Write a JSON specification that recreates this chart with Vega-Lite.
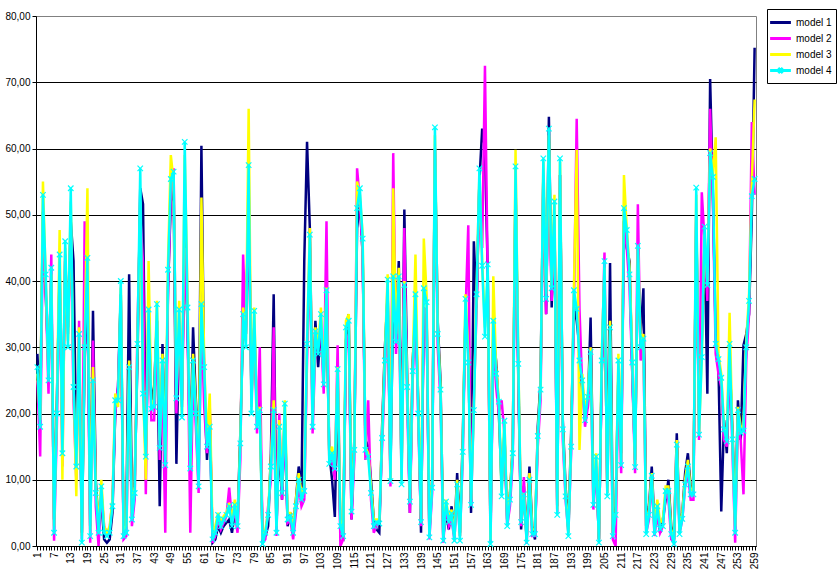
{
"$schema":"https://vega.github.io/schema/vega-lite/v6.json",
"width":720,"height":530,
"autosize":{"type":"none"},
"padding":{"left":36,"top":16,"right":82,"bottom":33},
"background":"white",
"config":{"font":"Liberation Sans","view":{"stroke":"#808080","strokeWidth":1}},
"data":{"values":[
{"i":1,"m1":29,"m2":25,"m3":26,"m4":27},
{"i":2,"m1":20,"m2":13.5,"m3":19,"m4":18},
{"i":3,"m1":50.5,"m2":48,"m3":55,"m4":53},
{"i":4,"m1":38,"m2":39,"m3":40,"m4":41},
{"i":5,"m1":27,"m2":23,"m3":26,"m4":25},
{"i":6,"m1":40,"m2":44,"m3":41,"m4":42},
{"i":7,"m1":4,"m2":0.8,"m3":3,"m4":2},
{"i":8,"m1":22,"m2":18,"m3":21,"m4":20},
{"i":9,"m1":41,"m2":42,"m3":47.7,"m4":44},
{"i":10,"m1":16,"m2":12,"m3":10,"m4":14},
{"i":11,"m1":43,"m2":44,"m3":45,"m4":46},
{"i":12,"m1":33,"m2":32,"m3":31,"m4":30},
{"i":13,"m1":49,"m2":48.7,"m3":52,"m4":54},
{"i":14,"m1":43,"m2":22,"m3":25,"m4":24},
{"i":15,"m1":14,"m2":10,"m3":7.5,"m4":12},
{"i":16,"m1":30,"m2":34,"m3":33,"m4":32},
{"i":17,"m1":2,"m2":1,"m3":1.5,"m4":0.5},
{"i":18,"m1":28,"m2":49,"m3":31,"m4":30},
{"i":19,"m1":40,"m2":38,"m3":54,"m4":43.5},
{"i":20,"m1":3,"m2":0.5,"m3":2.5,"m4":1.5},
{"i":21,"m1":35.5,"m2":31,"m3":27,"m4":25},
{"i":22,"m1":10,"m2":6,"m3":9,"m4":8},
{"i":23,"m1":3,"m2":0,"m3":3,"m4":2},
{"i":24,"m1":7,"m2":8,"m3":10,"m4":9},
{"i":25,"m1":1,"m2":3,"m3":3,"m4":2},
{"i":26,"m1":0.5,"m2":2,"m3":2,"m4":1.5},
{"i":27,"m1":1,"m2":2.5,"m3":3,"m4":2},
{"i":28,"m1":5,"m2":7,"m3":7,"m4":6},
{"i":29,"m1":20,"m2":20,"m3":23,"m4":22},
{"i":30,"m1":24,"m2":24,"m3":21,"m4":22},
{"i":31,"m1":38,"m2":37,"m3":39,"m4":40},
{"i":32,"m1":2,"m2":1,"m3":2.5,"m4":1.5},
{"i":33,"m1":4,"m2":1.5,"m3":3,"m4":2},
{"i":34,"m1":41,"m2":25,"m3":28,"m4":27},
{"i":35,"m1":6,"m2":3,"m3":5,"m4":4},
{"i":36,"m1":10,"m2":7,"m3":9,"m4":8},
{"i":37,"m1":28,"m2":33,"m3":31,"m4":30.5},
{"i":38,"m1":54,"m2":50,"m3":52,"m4":57},
{"i":39,"m1":51.6,"m2":42.7,"m3":24,"m4":23},
{"i":40,"m1":15,"m2":7.8,"m3":10,"m4":13.5},
{"i":41,"m1":33,"m2":38,"m3":43,"m4":35.7},
{"i":42,"m1":22,"m2":19,"m3":21,"m4":20.7},
{"i":43,"m1":24,"m2":19,"m3":22,"m4":21},
{"i":44,"m1":34,"m2":34,"m3":37,"m4":36.5},
{"i":45,"m1":6,"m2":13,"m3":16,"m4":14.8},
{"i":46,"m1":30.5,"m2":26,"m3":29,"m4":28},
{"i":47,"m1":14,"m2":2,"m3":13,"m4":12.2},
{"i":48,"m1":39,"m2":39,"m3":43,"m4":41.7},
{"i":49,"m1":52,"m2":53,"m3":59,"m4":55.4},
{"i":50,"m1":54,"m2":57,"m3":55,"m4":56.5},
{"i":51,"m1":12.4,"m2":20,"m3":23,"m4":22.3},
{"i":52,"m1":33,"m2":33,"m3":37,"m4":35.7},
{"i":53,"m1":22,"m2":21,"m3":20,"m4":19.4},
{"i":54,"m1":48.4,"m2":45,"m3":59,"m4":61},
{"i":55,"m1":33,"m2":34,"m3":38,"m4":36},
{"i":56,"m1":14,"m2":2,"m3":12,"m4":11.7},
{"i":57,"m1":33,"m2":26,"m3":29,"m4":28},
{"i":58,"m1":22,"m2":18,"m3":21,"m4":20},
{"i":59,"m1":12,"m2":8,"m3":10,"m4":9},
{"i":60,"m1":60.4,"m2":34,"m3":52.6,"m4":36.5},
{"i":61,"m1":25,"m2":21,"m3":28,"m4":27},
{"i":62,"m1":13,"m2":14,"m3":16,"m4":15},
{"i":63,"m1":20,"m2":21,"m3":23,"m4":18},
{"i":64,"m1":0.5,"m2":0.5,"m3":2,"m4":1},
{"i":65,"m1":1,"m2":1.5,"m3":3,"m4":2},
{"i":66,"m1":3,"m2":4,"m3":5,"m4":4.7},
{"i":67,"m1":2,"m2":2.5,"m3":3.5,"m4":3},
{"i":68,"m1":3,"m2":3.5,"m3":4.5,"m4":4},
{"i":69,"m1":3.5,"m2":4.5,"m3":5,"m4":4.7},
{"i":70,"m1":4,"m2":8.8,"m3":6.5,"m4":6},
{"i":71,"m1":2,"m2":4,"m3":4,"m4":3},
{"i":72,"m1":5,"m2":5,"m3":7,"m4":6.2},
{"i":73,"m1":4,"m2":2,"m3":3.5,"m4":3},
{"i":74,"m1":17,"m2":13,"m3":16,"m4":15.5},
{"i":75,"m1":33,"m2":44,"m3":36,"m4":35},
{"i":76,"m1":32,"m2":32,"m3":31,"m4":30},
{"i":77,"m1":52,"m2":54,"m3":66,"m4":57.5},
{"i":78,"m1":23,"m2":22,"m3":21,"m4":20},
{"i":79,"m1":33,"m2":33,"m3":36,"m4":35.5},
{"i":80,"m1":20,"m2":17,"m3":19,"m4":18},
{"i":81,"m1":22,"m2":30,"m3":21,"m4":20.5},
{"i":82,"m1":1,"m2":0.5,"m3":1,"m4":0.3},
{"i":83,"m1":1.5,"m2":1,"m3":2.5,"m4":2},
{"i":84,"m1":3,"m2":6,"m3":5,"m4":4.7},
{"i":85,"m1":14,"m2":10,"m3":13,"m4":12},
{"i":86,"m1":38,"m2":33,"m3":22,"m4":20.5},
{"i":87,"m1":3,"m2":1.5,"m3":3,"m4":2},
{"i":88,"m1":16,"m2":20,"m3":19,"m4":18},
{"i":89,"m1":7,"m2":7,"m3":9,"m4":8},
{"i":90,"m1":20,"m2":19,"m3":22,"m4":21.5},
{"i":91,"m1":3,"m2":3.5,"m3":5,"m4":4},
{"i":92,"m1":5,"m2":4,"m3":5,"m4":4.5},
{"i":93,"m1":3,"m2":1,"m3":3,"m4":2},
{"i":94,"m1":7,"m2":5,"m3":7,"m4":6},
{"i":95,"m1":12,"m2":9,"m3":11,"m4":10},
{"i":96,"m1":8,"m2":6,"m3":8,"m4":7},
{"i":97,"m1":43,"m2":7,"m3":9,"m4":8.3},
{"i":98,"m1":61,"m2":28,"m3":31,"m4":30.5},
{"i":99,"m1":48,"m2":45,"m3":48,"m4":47},
{"i":100,"m1":20,"m2":17,"m3":19,"m4":18},
{"i":101,"m1":34,"m2":30,"m3":33,"m4":32.4},
{"i":102,"m1":27,"m2":31,"m3":30,"m4":29},
{"i":103,"m1":33,"m2":33,"m3":36,"m4":35},
{"i":104,"m1":26,"m2":23,"m3":25,"m4":24.4},
{"i":105,"m1":36,"m2":49,"m3":39,"m4":38.6},
{"i":106,"m1":14,"m2":13,"m3":13,"m4":12.4},
{"i":107,"m1":10,"m2":13,"m3":15,"m4":14},
{"i":108,"m1":4.4,"m2":10,"m3":12,"m4":11.7},
{"i":109,"m1":25,"m2":30.3,"m3":27,"m4":26.7},
{"i":110,"m1":2,"m2":0,"m3":4,"m4":3},
{"i":111,"m1":1.3,"m2":1,"m3":2,"m4":1.5},
{"i":112,"m1":31,"m2":30,"m3":34,"m4":33},
{"i":113,"m1":35,"m2":32,"m3":35,"m4":34},
{"i":114,"m1":4,"m2":4,"m3":6,"m4":5.2},
{"i":115,"m1":16,"m2":13,"m3":15,"m4":14.5},
{"i":116,"m1":48,"m2":57,"m3":55,"m4":51},
{"i":117,"m1":52,"m2":52,"m3":53,"m4":54},
{"i":118,"m1":44,"m2":44,"m3":47,"m4":46.4},
{"i":119,"m1":16,"m2":13,"m3":15,"m4":14.5},
{"i":120,"m1":15,"m2":22,"m3":14,"m4":13.5},
{"i":121,"m1":10,"m2":7,"m3":9,"m4":8},
{"i":122,"m1":4,"m2":2,"m3":4,"m4":3},
{"i":123,"m1":2.5,"m2":3,"m3":4,"m4":3.6},
{"i":124,"m1":2,"m2":4,"m3":4,"m4":3.4},
{"i":125,"m1":18,"m2":15,"m3":17,"m4":16.3},
{"i":126,"m1":30,"m2":26,"m3":29,"m4":28},
{"i":127,"m1":38,"m2":38,"m3":41,"m4":40.2},
{"i":128,"m1":11,"m2":9,"m3":10,"m4":9.8},
{"i":129,"m1":38,"m2":59.3,"m3":54,"m4":40.7},
{"i":130,"m1":33,"m2":29,"m3":32,"m4":30.8},
{"i":131,"m1":43,"m2":38,"m3":42,"m4":40.7},
{"i":132,"m1":11,"m2":10,"m3":10,"m4":9.3},
{"i":133,"m1":50.8,"m2":48,"m3":40,"m4":39.4},
{"i":134,"m1":26,"m2":22,"m3":25,"m4":24},
{"i":135,"m1":5,"m2":5,"m3":7,"m4":6.7},
{"i":136,"m1":28,"m2":25,"m3":27,"m4":26.4},
{"i":137,"m1":35,"m2":36,"m3":44,"m4":38},
{"i":138,"m1":22,"m2":19,"m3":21,"m4":20},
{"i":139,"m1":2,"m2":3,"m3":4,"m4":3.6},
{"i":140,"m1":36,"m2":36,"m3":46.4,"m4":38.9},
{"i":141,"m1":35,"m2":35,"m3":38,"m4":36.8},
{"i":142,"m1":2,"m2":1,"m3":2,"m4":1.3},
{"i":143,"m1":10,"m2":8,"m3":10,"m4":8.8},
{"i":144,"m1":60,"m2":60,"m3":62,"m4":63.2},
{"i":145,"m1":34,"m2":30,"m3":33,"m4":32},
{"i":146,"m1":25,"m2":22,"m3":24,"m4":23.6},
{"i":147,"m1":1.5,"m2":0.5,"m3":1.5,"m4":0.8},
{"i":148,"m1":5,"m2":6,"m3":7,"m4":6.7},
{"i":149,"m1":2.5,"m2":3,"m3":4,"m4":3.6},
{"i":150,"m1":6,"m2":4,"m3":5.5,"m4":4.9},
{"i":151,"m1":1.5,"m2":1,"m3":1.5,"m4":0.8},
{"i":152,"m1":11,"m2":8,"m3":10,"m4":9.3},
{"i":153,"m1":2,"m2":1.5,"m3":1.5,"m4":0.8},
{"i":154,"m1":16,"m2":13,"m3":15,"m4":14.2},
{"i":155,"m1":35,"m2":35,"m3":38,"m4":37.3},
{"i":156,"m1":30,"m2":48.4,"m3":29,"m4":27.7},
{"i":157,"m1":5,"m2":6,"m3":7,"m4":6.2},
{"i":158,"m1":46,"m2":22,"m3":21,"m4":20.5},
{"i":159,"m1":36,"m2":36,"m3":39,"m4":38},
{"i":160,"m1":55,"m2":55,"m3":56,"m4":57},
{"i":161,"m1":63,"m2":45,"m3":43,"m4":42.3},
{"i":162,"m1":60,"m2":72.5,"m3":33,"m4":31.6},
{"i":163,"m1":41.2,"m2":40,"m3":40.7,"m4":42.5},
{"i":164,"m1":2,"m2":0.5,"m3":1,"m4":0.3},
{"i":165,"m1":32,"m2":31,"m3":40.7,"m4":34},
{"i":166,"m1":28,"m2":24,"m3":27,"m4":26},
{"i":167,"m1":20,"m2":20,"m3":22,"m4":21.8},
{"i":168,"m1":9,"m2":22,"m3":8,"m4":7.5},
{"i":169,"m1":17,"m2":17,"m3":19,"m4":18.9},
{"i":170,"m1":4,"m2":3,"m3":4,"m4":3},
{"i":171,"m1":8,"m2":6,"m3":8,"m4":7},
{"i":172,"m1":15,"m2":13,"m3":15,"m4":14},
{"i":173,"m1":55,"m2":54,"m3":59.8,"m4":57.3},
{"i":174,"m1":25,"m2":26,"m3":28,"m4":27.5},
{"i":175,"m1":2.5,"m2":3,"m3":4,"m4":3.6},
{"i":176,"m1":9,"m2":10.4,"m3":8,"m4":7.8},
{"i":177,"m1":1,"m2":0.3,"m3":1,"m4":0.5},
{"i":178,"m1":12,"m2":9,"m3":11,"m4":10},
{"i":179,"m1":3,"m2":1.5,"m3":2.5,"m4":1.8},
{"i":180,"m1":1,"m2":1.5,"m3":2.5,"m4":1.8},
{"i":181,"m1":18,"m2":15,"m3":17,"m4":16.6},
{"i":182,"m1":25,"m2":22,"m3":24,"m4":23.6},
{"i":183,"m1":56,"m2":56,"m3":58,"m4":58.5},
{"i":184,"m1":35,"m2":35,"m3":38,"m4":37.3},
{"i":185,"m1":64.8,"m2":60,"m3":62,"m4":63},
{"i":186,"m1":36,"m2":37,"m3":39,"m4":38.9},
{"i":187,"m1":50,"m2":50,"m3":53,"m4":52},
{"i":188,"m1":6,"m2":5,"m3":5.5,"m4":4.7},
{"i":189,"m1":56,"m2":56,"m3":58,"m4":58.5},
{"i":190,"m1":19,"m2":16,"m3":18,"m4":17.6},
{"i":191,"m1":9,"m2":7,"m3":8,"m4":7.5},
{"i":192,"m1":2.5,"m2":2,"m3":2,"m4":1.5},
{"i":193,"m1":17,"m2":14,"m3":16,"m4":15},
{"i":194,"m1":36,"m2":36,"m3":39,"m4":38.6},
{"i":195,"m1":34,"m2":64.5,"m3":59.8,"m4":35.8},
{"i":196,"m1":30,"m2":35.8,"m3":14.5,"m4":28},
{"i":197,"m1":23,"m2":24,"m3":26,"m4":25},
{"i":198,"m1":21,"m2":18,"m3":20,"m4":19},
{"i":199,"m1":21,"m2":21,"m3":23,"m4":22.5},
{"i":200,"m1":34.5,"m2":28,"m3":30,"m4":29.3},
{"i":201,"m1":8,"m2":5.5,"m3":7,"m4":6.2},
{"i":202,"m1":12,"m2":12,"m3":14,"m4":13.5},
{"i":203,"m1":1,"m2":1,"m3":1,"m4":0.5},
{"i":204,"m1":26,"m2":26,"m3":29,"m4":28},
{"i":205,"m1":41,"m2":44.3,"m3":42,"m4":43},
{"i":206,"m1":9,"m2":8,"m3":8,"m4":7.5},
{"i":207,"m1":42.7,"m2":31,"m3":34,"m4":33},
{"i":208,"m1":2,"m2":1,"m3":2,"m4":1.5},
{"i":209,"m1":6,"m2":0,"m3":5,"m4":4.7},
{"i":210,"m1":26,"m2":26,"m3":29,"m4":28},
{"i":211,"m1":14,"m2":11,"m3":13,"m4":12.2},
{"i":212,"m1":49,"m2":49,"m3":56,"m4":51},
{"i":213,"m1":45,"m2":45,"m3":48,"m4":47.7},
{"i":214,"m1":43,"m2":39,"m3":42,"m4":41},
{"i":215,"m1":26,"m2":26,"m3":29,"m4":27.7},
{"i":216,"m1":13,"m2":11,"m3":12,"m4":11.9},
{"i":217,"m1":43,"m2":51.6,"m3":45,"m4":45.3},
{"i":218,"m1":32,"m2":28,"m3":31,"m4":30},
{"i":219,"m1":38.9,"m2":30,"m3":32,"m4":31.3},
{"i":220,"m1":3,"m2":2,"m3":2.5,"m4":1.8},
{"i":221,"m1":6,"m2":4,"m3":5.5,"m4":4.7},
{"i":222,"m1":12,"m2":10,"m3":11,"m4":10.6},
{"i":223,"m1":3,"m2":1.5,"m3":2.5,"m4":1.8},
{"i":224,"m1":5,"m2":5,"m3":7,"m4":6},
{"i":225,"m1":2,"m2":2,"m3":3.5,"m4":2.6},
{"i":226,"m1":4,"m2":3,"m3":4,"m4":3},
{"i":227,"m1":7,"m2":8,"m3":9,"m4":8.3},
{"i":228,"m1":10,"m2":7,"m3":9,"m4":8.3},
{"i":229,"m1":3,"m2":1,"m3":2.5,"m4":1.8},
{"i":230,"m1":1,"m2":0.5,"m3":1,"m4":0.3},
{"i":231,"m1":17,"m2":14,"m3":16,"m4":15.3},
{"i":232,"m1":3,"m2":2,"m3":2.5,"m4":1.8},
{"i":233,"m1":5,"m2":4,"m3":5,"m4":4.1},
{"i":234,"m1":11,"m2":9,"m3":10,"m4":9.3},
{"i":235,"m1":14,"m2":11,"m3":13,"m4":12},
{"i":236,"m1":9,"m2":7,"m3":8.5,"m4":7.8},
{"i":237,"m1":9,"m2":7,"m3":8.5,"m4":7.8},
{"i":238,"m1":50,"m2":50,"m3":53,"m4":54.1},
{"i":239,"m1":20,"m2":16,"m3":17,"m4":16.8},
{"i":240,"m1":31,"m2":53.4,"m3":29,"m4":28.5},
{"i":241,"m1":46,"m2":46,"m3":47,"m4":48.2},
{"i":242,"m1":23,"m2":37,"m3":40,"m4":39.4},
{"i":243,"m1":70.5,"m2":66,"m3":60,"m4":59.3},
{"i":244,"m1":53,"m2":52,"m3":56,"m4":55.7},
{"i":245,"m1":32,"m2":29,"m3":61.7,"m4":30.5},
{"i":246,"m1":27,"m2":26,"m3":29,"m4":28.2},
{"i":247,"m1":5.2,"m2":24,"m3":26,"m4":25.4},
{"i":248,"m1":19,"m2":16,"m3":18,"m4":17.6},
{"i":249,"m1":14,"m2":15,"m3":16,"m4":15.8},
{"i":250,"m1":28,"m2":29,"m3":35.2,"m4":30.5},
{"i":251,"m1":18,"m2":15,"m3":17,"m4":16.1},
{"i":252,"m1":4,"m2":0.5,"m3":3,"m4":2},
{"i":253,"m1":22,"m2":19,"m3":21,"m4":20.5},
{"i":254,"m1":16,"m2":16,"m3":18,"m4":17.1},
{"i":255,"m1":30.3,"m2":7.8,"m3":18,"m4":17.4},
{"i":256,"m1":32,"m2":28,"m3":31,"m4":30},
{"i":257,"m1":35,"m2":35,"m3":38,"m4":37},
{"i":258,"m1":50,"m2":64,"m3":55,"m4":52.8},
{"i":259,"m1":75.2,"m2":53,"m3":67.4,"m4":55.4}
]},
"transform":[{"fold":["m1","m2","m3","m4"],"as":["model","value"]}],
"layer":[
{"mark":{"type":"line","strokeWidth":2.5,"clip":true},
 "encoding":{
  "x":{"field":"i","type":"ordinal","scale":{"padding":0.5},
   "axis":{"title":null,"labelAngle":-90,"labelAlign":"right","labelBaseline":"middle","labelOverlap":false,
    "labelExpr":"(datum.value - 1) % 6 === 0 ? datum.value : ''","labelFontSize":10,"labelColor":"black",
    "tickSize":4,"tickColor":"black","domainColor":"black","labelPadding":2,"grid":false}},
  "y":{"field":"value","type":"quantitative","scale":{"domain":[0,80],"nice":false},
   "axis":{"title":null,"values":[0,10,20,30,40,50,60,70,80],
    "labelExpr":"replace(format(datum.value, '.2f'), '.', ',')","labelFontSize":10,"labelColor":"black",
    "tickSize":4,"tickColor":"black","domainColor":"black","labelPadding":2,"grid":true,
    "gridColor":{"condition":{"test":"datum.value === 80","value":"transparent"},"value":"black"},"gridWidth":1}},
  "color":{"field":"model","type":"nominal",
   "scale":{"domain":["m1","m2","m3","m4"],"range":["#000080","#FF00FF","#FFFF00","#00FFFF"]},
   "legend":{"title":null,"orient":"none","legendX":731,"legendY":-7,"strokeColor":"black","fillColor":"white",
    "padding":4,"symbolType":"stroke","symbolSize":256,"symbolStrokeWidth":3,"rowPadding":0,"labelOffset":6,
    "labelFontSize":10,"labelColor":"black","labelExpr":"'model ' + slice(datum.label, 1)",
    "encode":{"symbols":{"update":{"shape":{"signal":"datum.value === 'm4' ? 'M-1.3,0L1.3,0M-0.3,-0.3L0.3,0.3M-0.3,0.3L0.3,-0.3' : 'M-1.3,0L1.3,0'"}}}}}}
 }},
{"transform":[{"filter":"datum.model === 'm4'"}],
 "mark":{"type":"point","shape":"M-1,-1L1,1M-1,1L1,-1","filled":false,"size":30,"strokeWidth":1.2,"color":"#00FFFF","opacity":1},
 "encoding":{"x":{"field":"i","type":"ordinal"},"y":{"field":"value","type":"quantitative"}}}
]
}
